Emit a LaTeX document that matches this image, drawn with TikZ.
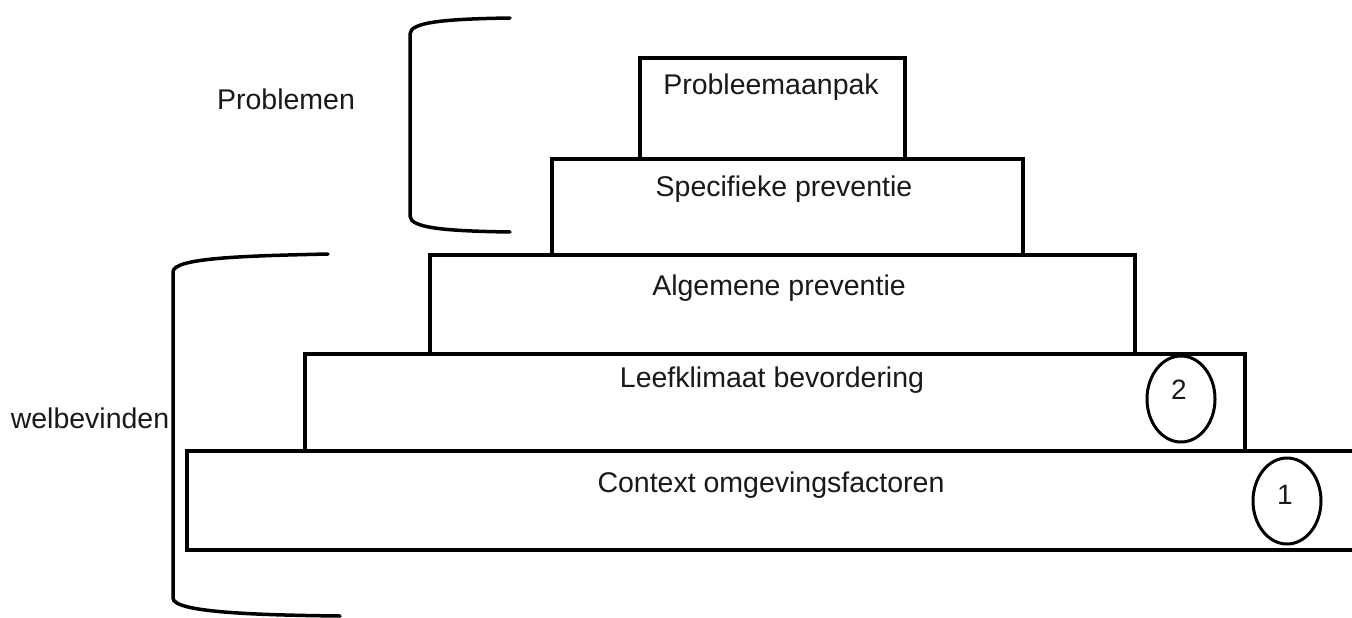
\documentclass[tikz,border=0pt]{standalone}
\usepackage{fontspec}
\setmainfont{Liberation Sans}
\usetikzlibrary{shapes.geometric}
\begin{document}
\begin{tikzpicture}[x=1pt,y=-1pt,
  layer/.style={draw=black,line width=4pt,rectangle,inner sep=0pt,anchor=north west},
  lbl/.style={font=\fontsize{28.5}{32}\selectfont,text=black!90,anchor=base,inner sep=0pt},
  brace/.style={draw=black,line width=3.5pt,line cap=round},
  ringmark/.style={draw=black,line width=3pt,ellipse,inner sep=0pt,minimum width=68pt,minimum height=86pt}]
\useasboundingbox (0,0) rectangle (1352,618);
\fill[white] (0,0) rectangle (1352,618);
% boxes
\node[layer,minimum width=1175pt,minimum height=99pt] (b1) at (185,449) {};
\node[layer,minimum width=940pt,minimum height=97pt] (b2) at (303,352) {};
\node[layer,minimum width=705pt,minimum height=99pt] (b3) at (428,253) {};
\node[layer,minimum width=471pt,minimum height=96pt] (b4) at (550,157) {};
\node[layer,minimum width=265pt,minimum height=101pt] (b5) at (638,56) {};
% labels
\node[lbl] (t1) at (771,492) {Context omgevingsfactoren};
\node[lbl] (t2) at (772,387) {Leefklimaat bevordering};
\node[lbl] (t3) at (779,295) {Algemene preventie};
\node[lbl] (t4) at (784,196) {Specifieke preventie};
\node[lbl] (t5) at (771,95) {Probleemaanpak};
\node[lbl] (tp) at (286,110) {Problemen};
\node[lbl] (tw) at (90,428) {welbevinden};
% circles
\node[ringmark] (c2) at (1181,399) {};
\node[ringmark] (c1) at (1287,501) {};
\node[lbl,font=\fontsize{28}{30}\selectfont] (n2) at (1179,399) {2};
\node[lbl,font=\fontsize{28}{30}\selectfont] (n1) at (1285,504) {1};
% brackets
\coordinate (p1) at (510,18);
\coordinate (p2) at (510,232);
\coordinate (w1) at (328,254);
\coordinate (w2) at (340,616);
\draw[brace] (p1) .. controls (445,19) and (410,22) .. (410,34) -- (410,216) .. controls (410,228) and (445,231) .. (p2);
\draw[brace] (w1) .. controls (240,256) and (173,258) .. (173,272) -- (173,598) .. controls (173,612) and (250,615) .. (w2);
\end{tikzpicture}
\end{document}
